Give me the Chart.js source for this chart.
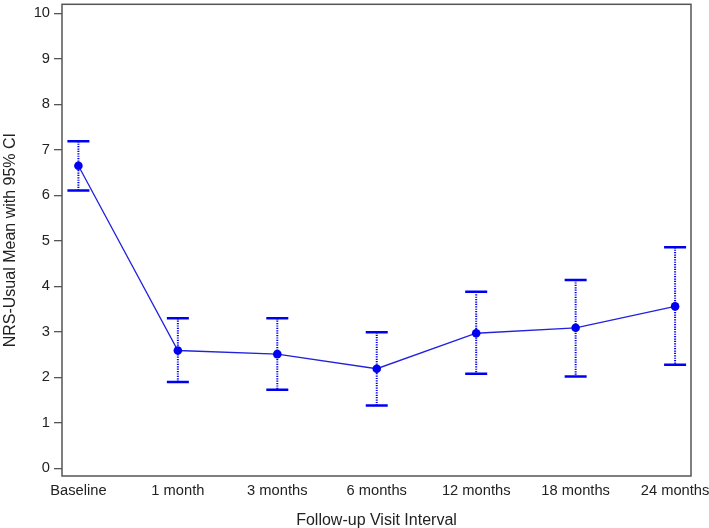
<!DOCTYPE html>
<html>
<head>
<meta charset="utf-8">
<script src="https://cdn.jsdelivr.net/npm/chart.js@4/dist/chart.umd.min.js"></script>
<style>
html,body{margin:0;padding:0;background:#fff;}
#wrap{width:709px;height:528px;}
</style>
</head>
<body>
<div id="wrap"><canvas id="c" width="709" height="528"></canvas></div>
<script>
const categories = ['Baseline', '1 month', '3 months', '6 months', '12 months', '18 months', '24 months'];
const meanValues = [6.65, 2.59, 2.51, 2.19, 2.97, 3.09, 3.56];
const lowerCI = [6.11, 1.90, 1.73, 1.38, 2.08, 2.02, 2.28];
const upperCI = [7.19, 3.30, 3.30, 2.99, 3.88, 4.14, 4.86];
const yTicks = [0, 1, 2, 3, 4, 5, 6, 7, 8, 9, 10];

const blue = '#0000F0';
const axisColor = '#555555';
const textColor = '#222222';
const fontFamily = '"Liberation Sans", Arial, sans-serif';

const errorBarPlugin = {
  id: 'errorBars',
  afterDatasetsDraw(chart) {
    const ctx = chart.ctx;
    const xs = chart.scales.x, ys = chart.scales.y;
    ctx.save();
    for (let i = 0; i < categories.length; i++) {
      const x = xs.getPixelForValue(i);
      const yl = ys.getPixelForValue(lowerCI[i]);
      const yu = ys.getPixelForValue(upperCI[i]);
      ctx.strokeStyle = blue;
      ctx.lineWidth = 2;
      ctx.setLineDash([1.2, 1.2]);
      ctx.beginPath();
      ctx.moveTo(x, yu);
      ctx.lineTo(x, yl);
      ctx.stroke();
      ctx.setLineDash([]);
      ctx.lineWidth = 2.5;
      ctx.beginPath();
      ctx.moveTo(x - 11, yu); ctx.lineTo(x + 11, yu);
      ctx.moveTo(x - 11, yl); ctx.lineTo(x + 11, yl);
      ctx.stroke();
    }
    ctx.restore();
  }
};

const framePlugin = {
  id: 'frame',
  afterDraw(chart) {
    const a = chart.chartArea;
    const ctx = chart.ctx;
    ctx.save();
    ctx.strokeStyle = axisColor;
    ctx.lineWidth = 1.5;
    ctx.strokeRect(a.left, a.top, a.right - a.left, a.bottom - a.top);
    ctx.restore();
  }
};

new Chart(document.getElementById('c'), {
  type: 'line',
  data: {
    datasets: [{
      data: meanValues.map((v, i) => ({x: i, y: v})),
      borderColor: '#2222DD',
      borderWidth: 1.3,
      backgroundColor: blue,
      pointBackgroundColor: blue,
      pointBorderColor: blue,
      pointRadius: 4.3,
      pointBorderWidth: 0,
      tension: 0,
      fill: false
    }]
  },
  options: {
    responsive: false,
    animation: false,
    events: [],
    layout: {padding: {top: 2, right: 18, left: 0, bottom: 0}},
    plugins: {legend: {display: false}, tooltip: {enabled: false}},
    scales: {
      x: {
        type: 'linear',
        min: -0.165,
        max: 6.16,
        grid: {display: false, drawTicks: false},
        border: {display: false},
        ticks: {
          stepSize: 1,
          includeBounds: false,
          autoSkip: false,
          maxRotation: 0,
          padding: 6,
          color: textColor,
          font: {family: fontFamily, size: 14.7},
          callback: (v) => (Number.isInteger(v) && categories[v] !== undefined) ? categories[v] : ''
        },
        title: {
          display: true,
          text: 'Follow-up Visit Interval',
          color: textColor,
          font: {family: fontFamily, size: 16, lineHeight: 0.9},
          padding: {top: 0, bottom: 0}
        },
        afterFit(scale) {
          scale.height = 52;
          scale.paddingLeft = 0; scale.paddingRight = 0;
        }
      },
      y: {
        type: 'linear',
        min: -0.168,
        max: 10.2,
        afterBuildTicks(scale) { scale.ticks = yTicks.map(v => ({value: v})); },
        grid: {display: true, drawOnChartArea: false, drawTicks: true, tickLength: 8, color: axisColor, lineWidth: 1.3},
        border: {display: false},
        ticks: {
          padding: 4,
          color: textColor,
          font: {family: fontFamily, size: 14.7}
        },
        title: {
          display: true,
          text: 'NRS-Usual Mean with 95% CI',
          color: textColor,
          font: {family: fontFamily, size: 16, lineHeight: 1.2},
          padding: {top: 1, bottom: 0}
        },
        afterFit(scale) {
          scale.width = 62;
          scale.paddingTop = 0; scale.paddingBottom = 0;
        }
      }
    }
  },
  plugins: [errorBarPlugin, framePlugin]
});
</script>
</body>
</html>
